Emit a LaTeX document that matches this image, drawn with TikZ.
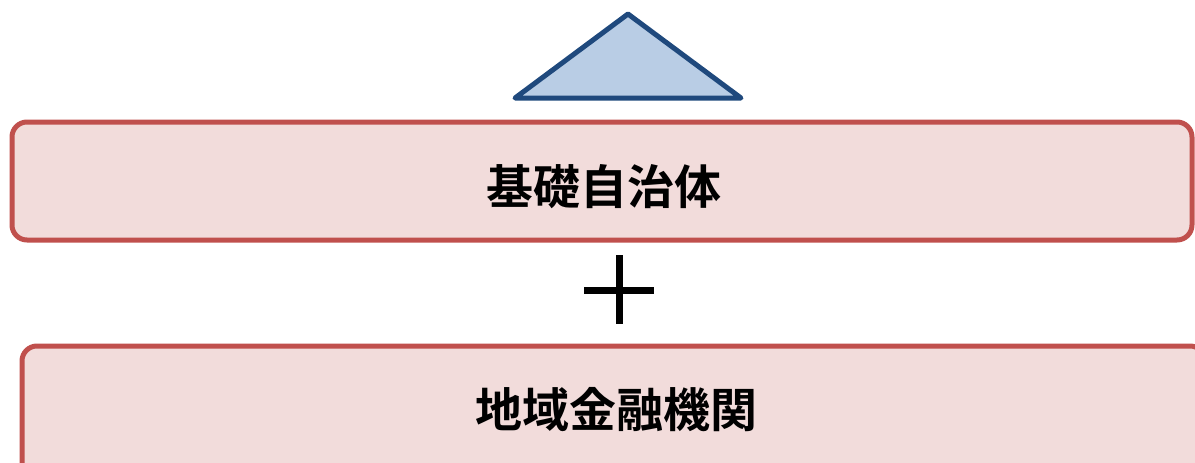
\documentclass[tikz,border=0pt]{standalone}
\usepackage{fontspec}
\newfontfamily\cjk{Noto Sans CJK JP Bold}
\definecolor{boxfill}{HTML}{F2DCDB}
\definecolor{boxline}{HTML}{C0504D}
\definecolor{trifill}{HTML}{B9CDE5}
\definecolor{triline}{HTML}{1F497D}
\begin{document}
\begin{tikzpicture}[x=1pt,y=-1pt,
  roundbox/.style={draw=boxline,fill=boxfill,line width=5pt,rounded corners=15pt},
  label/.style={font=\cjk\fontsize{47}{52}\selectfont,text=black,inner sep=0pt}]
\useasboundingbox (0,0) rectangle (1195,463);
\clip (0,0) rectangle (1195,463);
\draw[draw=triline,fill=trifill,line width=5pt,line join=round] (515,98) -- (628,14) -- (741,98) -- cycle;
\draw[roundbox] (12,122) rectangle (1192,240);
\node[label] (b1) at (604,187) {基礎自治体};
\draw[line width=7pt] (584,290) -- (654,290);
\draw[line width=7pt] (619.5,255) -- (619.5,324);
\draw[roundbox] (22,346) rectangle (1205,480);
\node[label] (b2) at (616,410) {地域金融機関};
\end{tikzpicture}
\end{document}
